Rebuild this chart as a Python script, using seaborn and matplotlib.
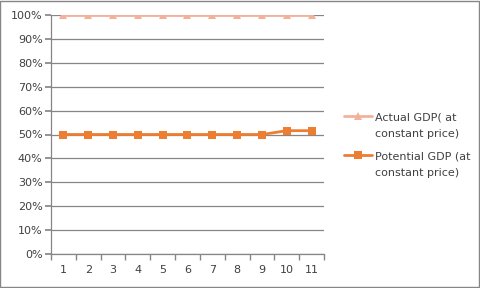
import matplotlib
matplotlib.use("Agg")
import matplotlib.pyplot as plt
import seaborn as sns
import pandas as pd
import numpy as np
from matplotlib.ticker import PercentFormatter, FixedLocator
from matplotlib.lines import Line2D

categories = [1, 2, 3, 4, 5, 6, 7, 8, 9, 10, 11]
actual_gdp = [1.0, 1.0, 1.0, 1.0, 1.0, 1.0, 1.0, 1.0, 1.0, 1.0, 1.0]
potential_gdp = [0.5, 0.5, 0.5, 0.5, 0.5, 0.5, 0.5, 0.5, 0.5, 0.516, 0.516]
series_names = ["Actual GDP( at\nconstant price)", "Potential GDP (at\nconstant price)"]

sns.set_theme(style="white")
plt.rcParams['font.family'] = ['DejaVu Sans']

df = pd.DataFrame({
    "x": categories * 2,
    "y": actual_gdp + potential_gdp,
    "series": [series_names[0]] * len(categories) + [series_names[1]] * len(categories),
})

fig = plt.figure(figsize=(4.8, 2.88), dpi=100)
ax = fig.add_axes([51/480, 1 - 254/288, (324-51)/480, (254-15)/288])

palette = {series_names[0]: "#F4B19A", series_names[1]: "#ED7D31"}
sns.lineplot(data=df, x="x", y="y", hue="series", style="series",
             markers={series_names[0]: "^", series_names[1]: "s"},
             dashes=False, palette=palette, markersize=6, linewidth=2,
             markeredgewidth=0, ax=ax)

ax.set_xlim(0.5, 11.5)
ax.set_ylim(0, 1.0)
ax.set_yticks(np.arange(0, 1.01, 0.1))
ax.yaxis.set_major_formatter(PercentFormatter(1.0, decimals=0))
ax.set_xticks(categories)
ax.xaxis.set_minor_locator(FixedLocator(np.arange(0.5, 11.6, 1)))
ax.tick_params(axis="x", which="major", length=0, labelsize=8, colors="#404040", pad=8)
ax.tick_params(axis="x", which="minor", length=4, color="#868686", direction="out", bottom=True)
ax.tick_params(axis="y", which="major", length=4, color="#868686", direction="out", left=True,
               labelsize=8, labelcolor="#404040", pad=2)
ax.grid(axis="y", color="#868686", linewidth=0.9)
ax.set_axisbelow(True)
ax.set_xlabel("")
ax.set_ylabel("")
for s in ["top", "right"]:
    ax.spines[s].set_visible(False)
for s in ["left", "bottom"]:
    ax.spines[s].set_color("#868686")
    ax.spines[s].set_linewidth(0.9)

leg = ax.legend(loc="center left", bbox_to_anchor=(1.035, 0.455), frameon=False,
                fontsize=8, handlelength=2.6, labelspacing=1.1, handletextpad=0.25)
for t in leg.get_texts():
    t.set_color("#404040")
    t.set_linespacing(1.85)
# align legend handles with the first line of each label
for ln in leg.findobj(Line2D):
    yd = np.asarray(ln.get_ydata(), dtype=float)
    ln.set_ydata(yd + 7.0)

fig.patches.append(plt.Rectangle((0.001, 0.002), 0.997, 0.995, transform=fig.transFigure,
                                 fill=False, edgecolor="#868686", linewidth=1))
fig.savefig("out.png", dpi=100, facecolor="white")
